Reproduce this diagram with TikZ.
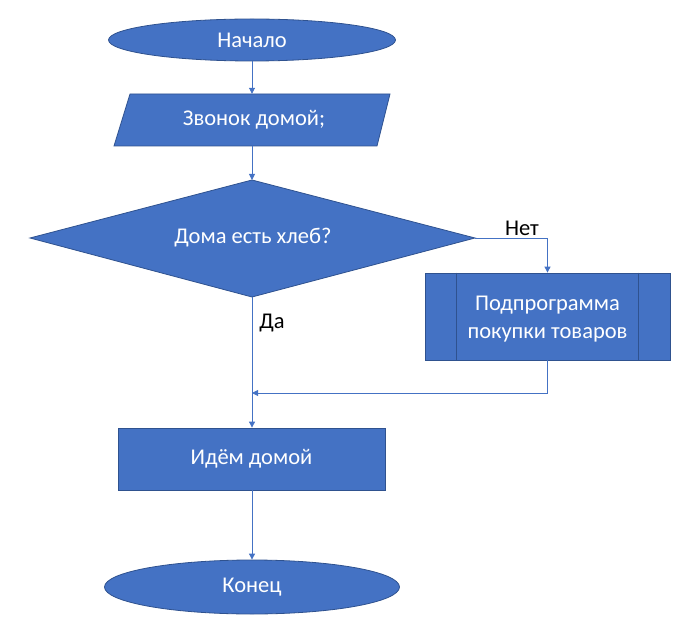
\documentclass[tikz,border=0pt]{standalone}
\usepackage{fontspec}
\setmainfont{Carlito}
\usetikzlibrary{shapes.geometric,arrows.meta,calc}
\definecolor{boxfill}{HTML}{4472C4}
\definecolor{boxline}{HTML}{2F528F}
\definecolor{flowline}{HTML}{4472C4}
\begin{document}
\begin{tikzpicture}[x=1pt,y=-1pt,
  every node/.style={font=\fontsize{22.5}{26}\selectfont},
  term/.style={ellipse,fill=boxfill,draw=boxline,line width=0.8pt,text=white,inner sep=0pt},
  proc/.style={rectangle,fill=boxfill,draw=boxline,line width=0.8pt,text=white,inner sep=0pt},
  lbl/.style={text=black,inner sep=0pt},
  flow/.style={draw=flowline,line width=0.9pt,-{Triangle[width=6pt,length=6pt]}},
  plain/.style={draw=flowline,line width=0.9pt}]
\useasboundingbox (0,0) rectangle (685,620);

% start terminal
\node[term,minimum width=287pt,minimum height=42pt] (start) at (252,40) {Начало};

% input parallelogram
\fill[boxfill,draw=boxline,line width=0.8pt] (130,94) -- (390,94) -- (377,146) -- (114,146) -- cycle;
\node[text=white,inner sep=0pt,minimum width=250pt,minimum height=52pt] (call) at (254,120) {Звонок домой;};

% decision
\fill[boxfill,draw=boxline,line width=0.8pt] (30,238) -- (252,180) -- (475,238) -- (252,297) -- cycle;
\node[text=white,inner sep=0pt] (q) at (253,238) {Дома есть хлеб?};
\coordinate (qe) at (475,238);
\coordinate (qn) at (252,180);
\coordinate (qs) at (252,297);

% predefined process
\node[proc,minimum width=245pt,minimum height=87pt] (sub) at (547.5,316.5) {};
\node[text=white,inner sep=0pt,align=center] (subtext) at (547.5,319.5)
  {Подпрограмма\\[2pt]покупки товаров};
\draw[boxline,line width=0.8pt] ($(sub.north west)+(32,0)$) -- ($(sub.south west)+(32,0)$);
\draw[boxline,line width=0.8pt] ($(sub.north east)+(-32,0)$) -- ($(sub.south east)+(-32,0)$);

% go home
\node[proc,minimum width=267pt,minimum height=62pt] (home) at (251.5,459) {Идём домой};

% end terminal
\node[term,minimum width=295pt,minimum height=54pt] (stop) at (252,587) {Конец};

% merge point
\coordinate (merge) at (252,393);
\coordinate (subdown) at (547.5,393);
\coordinate (turn) at (547.5,238);

% connectors
\draw[flow] (start.south) -- (start.south |- call.north);
\draw[flow] (qn |- call.south) -- (qn);
\draw[flow] (qe) -- (turn) -- (sub.north);
\draw[flow] (qs) -- (qs |- home.north);
\draw[plain] (sub.south) -- (subdown);
\draw[flow] (subdown) -- (merge);
\draw[flow] (qs |- home.south) -- (stop.north);

% branch labels
\node[lbl,anchor=south] (no) at (522,236) {Нет};
\node[lbl] (yes) at (272,323) {Да};
\end{tikzpicture}
\end{document}
